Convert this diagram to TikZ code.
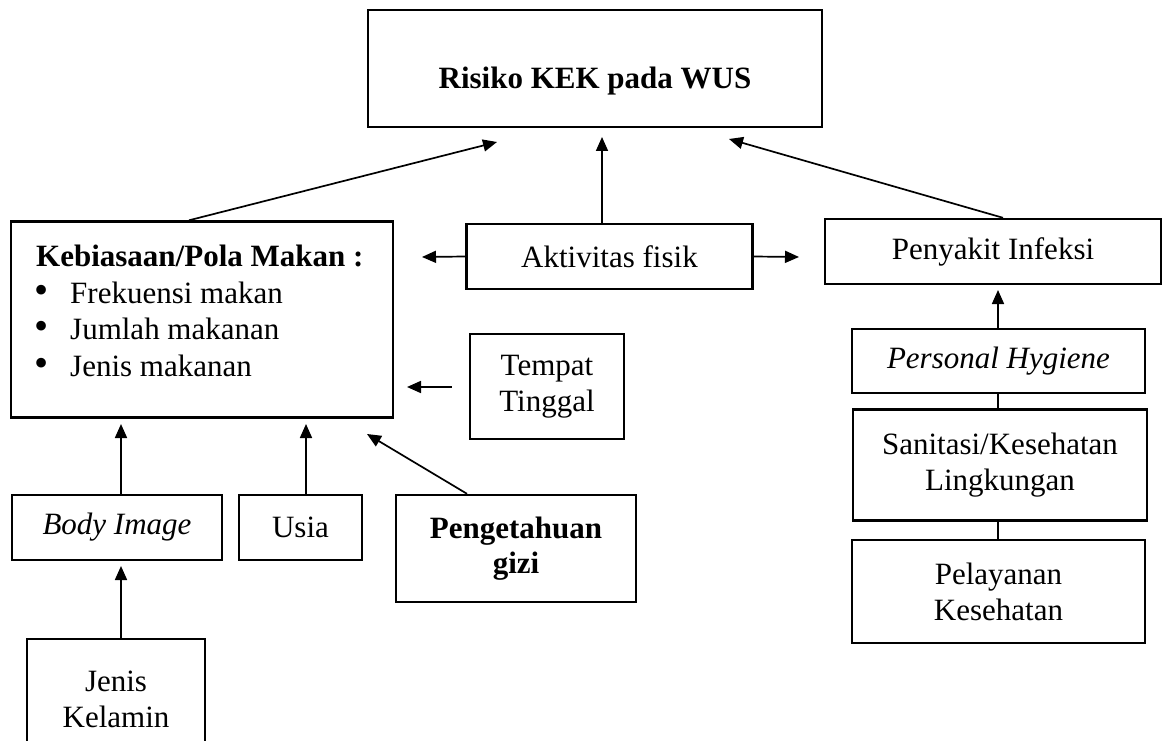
\documentclass[tikz,border=0pt]{standalone}
\usepackage{graphicx}
\usepackage{fontspec}
\setmainfont{Liberation Serif}
\usetikzlibrary{arrows.meta}
\newcommand{\bigbul}{\makebox[36pt][l]{\scalebox{1.3}{•}}}
\begin{document}
\begin{tikzpicture}[x=1pt,y=-1pt,
  box/.style={draw,line width=2.4pt,inner sep=0pt,align=center,font=\fontsize{31}{36}\selectfont},
  txt/.style={inner sep=0pt,font=\fontsize{31}{36}\selectfont},
  arr/.style={line width=1.7pt,-{Triangle[length=14pt,width=12pt]}},
  ln/.style={line width=1.7pt}]
\useasboundingbox (0,0) rectangle (1163,741);
\clip (0,0) rectangle (1163,741);
% top
\node[box,minimum width=454pt,minimum height=117pt] (top) at (595,68.5) {};
\node[txt,font=\fontsize{31}{36}\selectfont\bfseries] (toptxt) at (595,81) {Risiko KEK pada WUS};
% kebiasaan
\node[box,minimum width=382pt,minimum height=196pt] (keb) at (202,319.5) {};
\node[txt,anchor=base west,font=\fontsize{31}{36}\selectfont\bfseries] (kh) at (36,266) {Kebiasaan/Pola Makan :};
\node[txt,anchor=base west] (k1) at (34,303) {\bigbul Frekuensi makan};
\node[txt,anchor=base west] (k2) at (34,339) {\bigbul Jumlah makanan};
\node[txt,anchor=base west] (k3) at (34,376) {\bigbul Jenis makanan};
% aktivitas
\node[box,minimum width=286pt,minimum height=65pt] (akt) at (609.5,256.5) {Aktivitas fisik};
\coordinate (aktL) at (422,257);
\coordinate (aktR) at (799,257);
% penyakit
\node[box,minimum width=336pt,minimum height=65pt] (pen) at (993,251.5) {Penyakit Infeksi};
% tempat tinggal
\node[box,minimum width=154pt,minimum height=105pt] (tem) at (547,386.5) {Tempat\\Tinggal};
\coordinate (temT) at (407,387);
% bottom row
\node[box,minimum width=210pt,minimum height=65pt] (body) at (117,527.5) {\itshape Body Image};
\node[box,minimum width=123pt,minimum height=65pt] (usia) at (300.5,527.5) {Usia};
\node[box,minimum width=240pt,minimum height=107pt,font=\fontsize{31}{35}\selectfont\bfseries] (peng) at (516,548.5) {Pengetahuan\\gizi};
\coordinate (pengT) at (367,434);
\node[box,minimum width=178pt,minimum height=120pt] (jk) at (116,699) {Jenis\\Kelamin};
% right column
\node[box,minimum width=293pt,minimum height=64pt] (ph) at (998.5,361) {\itshape Personal Hygiene};
\node[box,minimum width=294pt,minimum height=111pt] (san) at (1000,465) {Sanitasi/Kesehatan\\Lingkungan};
\node[box,minimum width=293pt,minimum height=103pt] (pel) at (998.5,591.5) {Pelayanan\\Kesehatan};
% connectors
\draw[arr] (keb.north -| 189,0) -- (497,142);
\draw[arr] (akt.north -| 602,0) -- (602,137);
\draw[arr] (pen.north -| 1003,0) -- (729,139);
\draw[arr] (akt.west) -- (aktL);
\draw[arr] (akt.east) -- (aktR);
\draw[arr] (tem.west |- 0,387) ++(-17,0) -- (temT);
\draw[arr] (body.north -| 121,0) -- (121,424);
\draw[arr] (usia.north -| 306,0) -- (306,424);
\draw[arr] (peng.north -| 467,0) -- (pengT);
\draw[arr] (jk.north -| 121,0) -- (121,566);
\draw[arr] (ph.north -| 998,0) -- (998,290);
\draw[ln] (ph.south -| 998,0) -- (san.north -| 998,0);
\draw[ln] (san.south -| 998,0) -- (pel.north -| 998,0);
\end{tikzpicture}
\end{document}
